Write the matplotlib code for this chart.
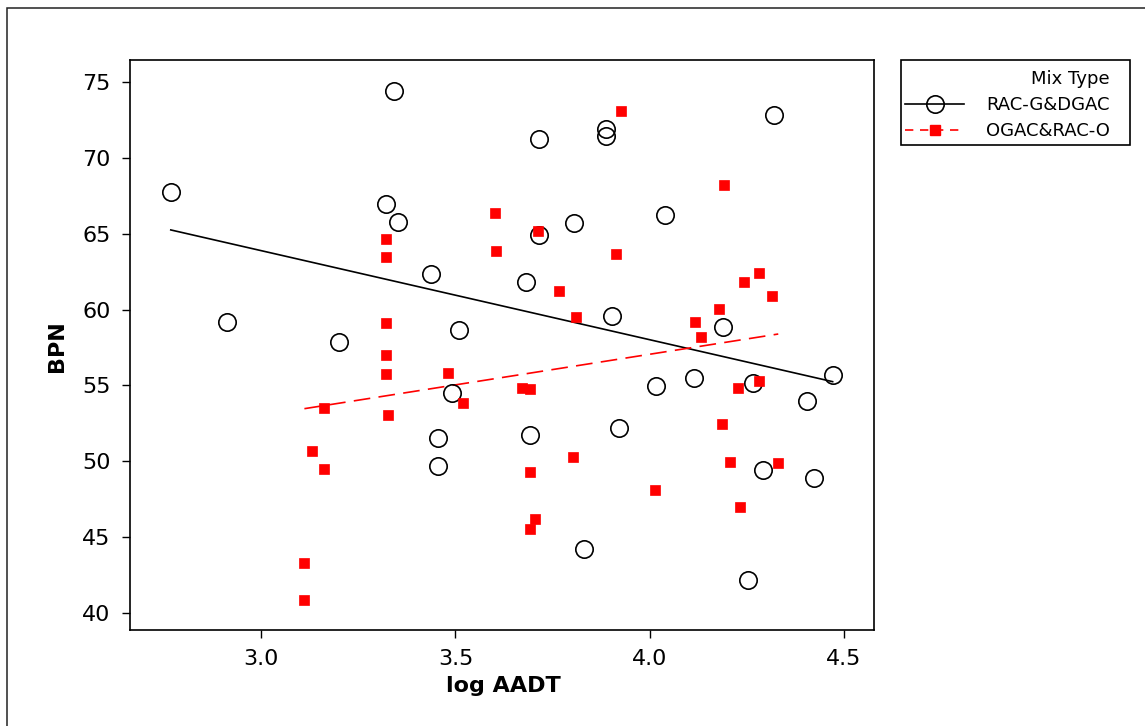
import numpy as np
import matplotlib
matplotlib.use("Agg")
import matplotlib.pyplot as plt
from matplotlib.lines import Line2D
from matplotlib.patches import Rectangle

# ---- data ----
rac_x = [2.767, 3.342, 3.321, 3.351, 3.438, 2.911, 3.508, 3.199,
         3.714, 3.887, 3.887, 4.319, 4.040, 3.804, 3.714, 3.682, 3.904, 4.188,
         4.471, 4.267, 4.113, 4.015, 4.406, 3.693, 3.920, 4.291, 4.422, 3.830, 4.254,
         3.491, 3.455, 3.455]
rac_y = [67.76, 74.41, 66.95, 65.78, 62.32, 59.16, 58.65, 57.86,
         71.23, 71.87, 71.43, 72.83, 66.20, 65.70, 64.93, 61.83, 59.55, 58.87,
         55.69, 55.18, 55.47, 54.99, 54.00, 51.72, 52.20, 49.43, 48.93, 44.25, 42.19,
         54.49, 51.52, 49.72]

og_x = [3.321, 3.321, 3.602, 3.605, 3.321, 3.321,
        3.321, 3.481, 3.161, 3.325, 3.519, 3.131, 3.161, 3.111, 3.111,
        3.927, 4.191, 3.713, 3.914, 3.766, 3.811, 4.281, 4.244, 4.314, 4.178, 4.117, 4.133,
        3.671, 3.692, 4.227, 4.281, 4.186, 3.692, 3.803, 4.331, 4.207, 4.013, 4.232, 3.705, 3.692]
og_y = [64.64, 63.46, 66.34, 63.85, 59.09, 57.03,
        55.74, 55.82, 53.54, 53.04, 53.85, 50.67, 49.48, 43.33, 40.86,
        73.07, 68.22, 65.15, 63.66, 61.20, 59.51, 62.38, 61.79, 60.87, 60.02, 59.20, 58.21,
        54.85, 54.75, 54.83, 55.32, 52.44, 49.28, 50.27, 49.88, 49.96, 48.10, 47.00, 46.21, 45.53]

series_labels = ["RAC-G&DGAC", "OGAC&RAC-O"]
legend_title = "Mix Type"
x_ticks = [3.0, 3.5, 4.0, 4.5]
y_ticks = [40, 45, 50, 55, 60, 65, 70, 75]

plt.rcParams['font.family'] = ['DejaVu Sans']

fig = plt.figure(figsize=(11.45, 7.26), dpi=100)
W, H = 1145, 726
ax = fig.add_axes([130 / W, 1 - 630 / H, (874 - 130) / W, (630 - 60) / H])

# outer frame
fig.patches.append(Rectangle((7 / W, -0.05), 1.2, 1 - 8 / H + 0.05, transform=fig.transFigure,
                             fill=False, edgecolor='#222222', linewidth=1.1, zorder=0))
# legend frame
fig.patches.append(Rectangle((901 / W, 1 - 145 / H), (1130 - 901) / W, (145 - 60) / H,
                             transform=fig.transFigure, fill=False, edgecolor='black',
                             linewidth=1.2, zorder=1))

rx = np.array(rac_x); ry = np.array(rac_y)
ox = np.array(og_x); oy = np.array(og_y)

ax.plot(rx, ry, linestyle='none', marker='o', markersize=12.5, markerfacecolor='none',
        markeredgecolor='black', markeredgewidth=1.2, zorder=3)
ax.plot(ox, oy, linestyle='none', marker='s', markersize=7.5, markerfacecolor='red',
        markeredgecolor='red', markeredgewidth=0.5, zorder=3)

# regression lines
c1 = np.polyfit(rx, ry, 1)
xx1 = np.array([rx.min(), rx.max()])
ax.plot(xx1, np.polyval(c1, xx1), color='black', linewidth=1.2, zorder=2)
c2 = np.polyfit(ox, oy, 1)
xx2 = np.array([ox.min(), ox.max()])
ax.plot(xx2, np.polyval(c2, xx2), color='red', linewidth=1.2, dashes=(10, 5), zorder=2)

ax.set_xlim(2.662, 4.5775)
ax.set_ylim(38.90, 76.43)
ax.set_xticks(x_ticks)
ax.set_xticklabels([f"{t:.1f}" for t in x_ticks])
ax.set_yticks(y_ticks)
ax.tick_params(direction='out', length=6, width=1, labelsize=16, pad=8)
for s in ax.spines.values():
    s.set_linewidth(1.2)

ax.set_xlabel("log AADT", fontsize=16, fontweight='bold')
ax.set_ylabel("BPN", fontsize=16, fontweight='bold')
ax.xaxis.set_label_coords((503 - 130) / (874 - 130), -(676 - 630) / (630 - 60))
ax.yaxis.set_label_coords(-(130 - 67) / (874 - 130), (630 - 346) / (630 - 60))

handles = [
    Line2D([], [], color='black', linewidth=1.2, marker='o', markersize=12.5,
           markerfacecolor='none', markeredgecolor='black', markeredgewidth=1.2),
    Line2D([], [], color='red', linewidth=1.2, dashes=(5, 4), marker='s', markersize=7.5,
           markerfacecolor='red', markeredgecolor='red'),
]
leg = fig.legend(handles, series_labels, title=legend_title, loc='upper right',
                 bbox_to_anchor=(1110 / W, 1 - 70 / H), fontsize=13, title_fontsize=13,
                 alignment='right', frameon=False,
                 handlelength=3.3, borderpad=0, labelspacing=0.45, handletextpad=1.2,
                 borderaxespad=0)

fig.savefig("out.png", dpi=100)
